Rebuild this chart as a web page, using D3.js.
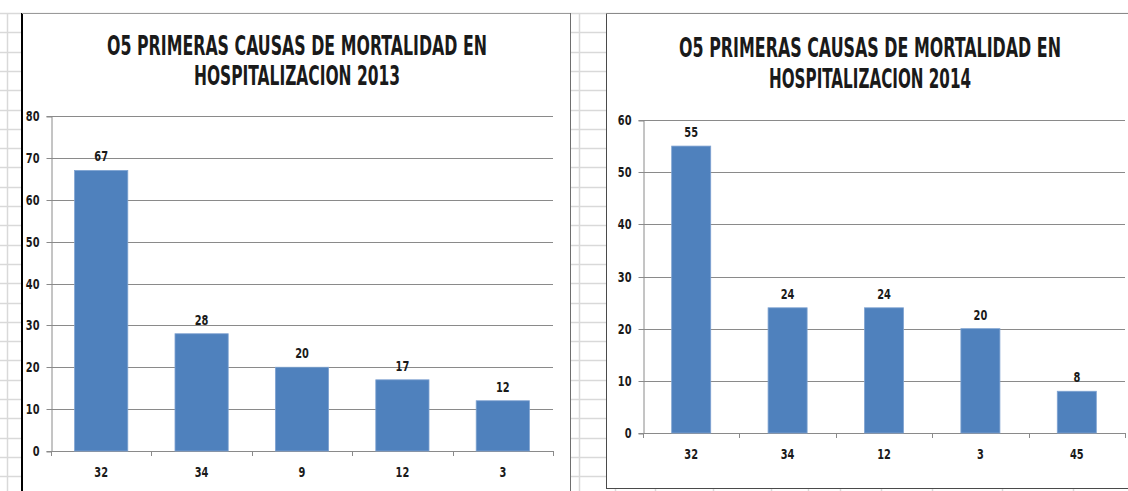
<!DOCTYPE html>
<html>
<head>
<meta charset="utf-8">
<script src="https://cdn.jsdelivr.net/npm/d3@7"></script>
<style>
  body { margin: 0; background: #fff; }
  svg text { font-family: "Liberation Sans Narrow", "DejaVu Sans Condensed", "Arial Narrow", sans-serif; font-weight: bold; fill: #1a1a1a; }
</style>
</head>
<body>
<div id="my_dataviz"></div>
<script>
// data
var causes2013 = ["32", "34", "9", "12", "3"];
var deaths2013 = [67, 28, 20, 17, 12];
var yTicks2013 = [0, 10, 20, 30, 40, 50, 60, 70, 80];
var title2013 = ["O5 PRIMERAS CAUSAS DE MORTALIDAD EN", "HOSPITALIZACION 2013"];

var causes2014 = ["32", "34", "12", "3", "45"];
var deaths2014 = [55, 24, 24, 20, 8];
var yTicks2014 = [0, 10, 20, 30, 40, 50, 60];
var title2014 = ["O5 PRIMERAS CAUSAS DE MORTALIDAD EN", "HOSPITALIZACION 2014"];

var W = 1128, H = 491;
var svg = d3.select("#my_dataviz")
  .append("svg")
  .attr("width", W)
  .attr("height", H)
  .style("display", "block");

// squeeze a label so it looks like a narrow face
function narrow(sel, k) {
  sel.each(function() {
    var len = this.getComputedTextLength();
    d3.select(this)
      .attr("textLength", len * k)
      .attr("lengthAdjust", "spacingAndGlyphs");
  });
}

// spreadsheet cells behind the charts
var sheet = svg.append("g");
sheet.selectAll("line.row")
  .data(d3.range(13, H, 19.3))
  .enter().append("line")
  .attr("x1", 0).attr("x2", W)
  .attr("y1", function(d) { return Math.round(d) + 0.5; })
  .attr("y2", function(d) { return Math.round(d) + 0.5; })
  .attr("stroke", "#d9d9d9").attr("stroke-width", 1.5);
sheet.selectAll("line.col")
  .data([7, 579, 615, 655, 713, 771, 808, 840, 881, 932, 1002, 1073])
  .enter().append("line")
  .attr("x1", function(d) { return d + 0.5; })
  .attr("x2", function(d) { return d + 0.5; })
  .attr("y1", 13).attr("y2", H)
  .attr("stroke", "#d9d9d9").attr("stroke-width", 1.5);

function drawChart(cfg) {
  var g = svg.append("g");

  // chart frame
  g.append("rect")
    .attr("x", cfg.frame[0]).attr("y", cfg.frame[1])
    .attr("width", cfg.frame[2] - cfg.frame[0])
    .attr("height", cfg.frame[3] - cfg.frame[1])
    .attr("fill", "#fff");
  cfg.borders.forEach(function(b) {
    g.append("line")
      .attr("x1", b[0]).attr("y1", b[1]).attr("x2", b[2]).attr("y2", b[3])
      .attr("stroke", b[4]).attr("stroke-width", b[5]);
  });

  // title, tall and narrow like the original face
  cfg.title.forEach(function(t, i) {
    g.append("text")
      .attr("transform", "translate(" + cfg.titleX + "," + cfg.titleY[i] + ") scale(1,1.35)")
      .attr("text-anchor", "middle")
      .attr("textLength", cfg.titleLen[i])
      .attr("lengthAdjust", "spacingAndGlyphs")
      .style("font-size", "20px")
      .text(t);
  });

  var x = d3.scaleBand()
    .domain(cfg.cats)
    .range([cfg.x0, cfg.x1])
    .padding(0);

  var y = d3.scaleLinear()
    .domain([0, d3.max(cfg.ticks)])
    .range([cfg.y0, cfg.y1]);

  // horizontal gridlines
  g.selectAll(".grid")
    .data(cfg.ticks.slice(1))
    .enter().append("line")
    .attr("x1", cfg.x0).attr("x2", cfg.x1)
    .attr("y1", function(d) { return Math.round(y(d)) + 0.5; })
    .attr("y2", function(d) { return Math.round(y(d)) + 0.5; })
    .attr("stroke", "#8a8a8a").attr("stroke-width", 1);

  // y axis
  var yAxis = g.append("g")
    .attr("transform", "translate(" + (cfg.x0 + 0.5) + ",0.5)")
    .call(d3.axisLeft(y).tickValues(cfg.ticks).tickSize(5).tickPadding(7).tickFormat(d3.format("d")));
  yAxis.select(".domain").attr("stroke", "#8a8a8a");
  yAxis.selectAll(".tick line").attr("stroke", "#8a8a8a");
  yAxis.selectAll(".tick text").style("font-size", "14px").attr("fill", "#1a1a1a").call(narrow, 0.78);
  yAxis.selectAll(".tick").attr("transform", function(d) {
    return "translate(0," + Math.round(y(d)) + ")";
  });

  // x axis line and ticks on category boundaries
  g.append("line")
    .attr("x1", cfg.x0).attr("x2", cfg.x1)
    .attr("y1", Math.round(cfg.y0) + 0.5).attr("y2", Math.round(cfg.y0) + 0.5)
    .attr("stroke", "#8a8a8a");
  var bounds = cfg.cats.map(function(c) { return x(c); }).concat([cfg.x1]);
  g.selectAll(".xtick")
    .data(bounds)
    .enter().append("line")
    .attr("x1", function(d) { return Math.round(d) + 0.5; })
    .attr("x2", function(d) { return Math.round(d) + 0.5; })
    .attr("y1", cfg.y0).attr("y2", cfg.y0 + 5)
    .attr("stroke", "#8a8a8a");

  g.selectAll(".xlabel")
    .data(cfg.cats)
    .enter().append("text")
    .attr("x", function(d) { return x(d) + x.bandwidth() / 2; })
    .attr("y", cfg.y0 + 26)
    .attr("text-anchor", "middle")
    .style("font-size", "14px")
    .text(function(d) { return d; })
    .call(narrow, 0.78);

  // bars
  var bw = x.bandwidth() * cfg.barFrac;
  var data = cfg.cats.map(function(c, i) { return {c: c, v: cfg.vals[i]}; });
  g.selectAll(".bar")
    .data(data)
    .enter().append("rect")
    .attr("x", function(d) { return x(d.c) + (x.bandwidth() - bw) / 2; })
    .attr("y", function(d) { return y(d.v); })
    .attr("width", bw)
    .attr("height", function(d) { return cfg.y0 - y(d.v); })
    .attr("fill", "#4f81bd")
    .attr("stroke", "#7fa3d1")
    .attr("stroke-width", 0.8);

  // value labels
  g.selectAll(".val")
    .data(data)
    .enter().append("text")
    .attr("x", function(d) { return x(d.c) + x.bandwidth() / 2; })
    .attr("y", function(d) { return y(d.v) - 9; })
    .attr("text-anchor", "middle")
    .style("font-size", "14px")
    .text(function(d) { return d.v; })
    .call(narrow, 0.78);
}

drawChart({
  cats: causes2013, vals: deaths2013, ticks: yTicks2013, title: title2013,
  frame: [22, 13, 570, H + 2],
  borders: [[22, 13, 22, H, "#000", 2], [22, 13.5, 570, 13.5, "#9a9a9a", 1], [570.5, 13, 570.5, H, "#6e6e6e", 1]],
  titleX: 297, titleY: [55, 85], titleLen: [380, 206],
  x0: 51, x1: 553, y0: 451, y1: 116, barFrac: 0.53
});

drawChart({
  cats: causes2014, vals: deaths2014, ticks: yTicks2014, title: title2014,
  frame: [606, 13, W + 10, 489],
  borders: [[606.5, 13, 606.5, 489, "#4a4a4a", 1], [606, 13.5, W, 13.5, "#8a8a8a", 1], [606, 488.5, W, 488.5, "#4a4a4a", 1]],
  titleX: 870, titleY: [57, 88], titleLen: [382, 202],
  x0: 643, x1: 1125, y0: 433, y1: 120, barFrac: 0.405
});
</script>
</body>
</html>
